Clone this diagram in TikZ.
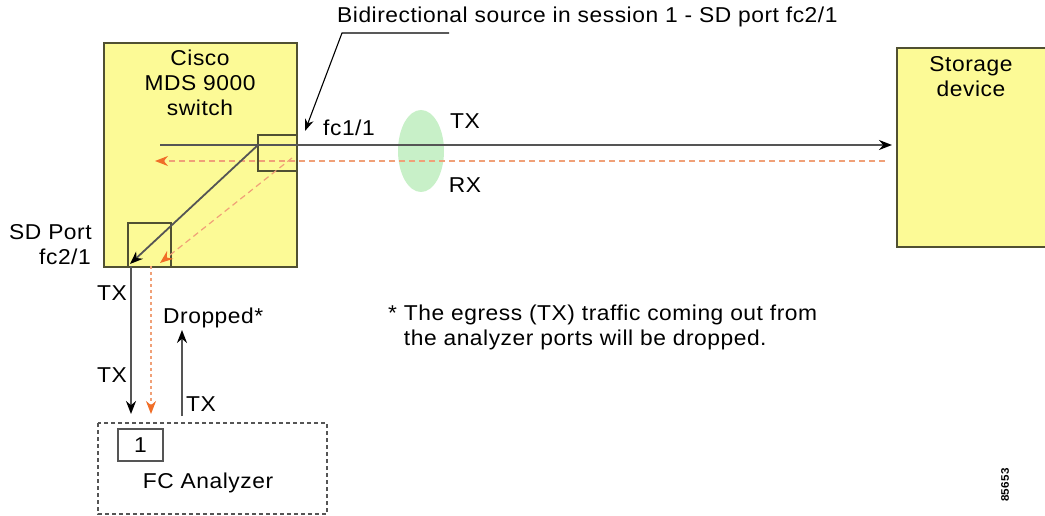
\documentclass[tikz,border=0pt]{standalone}
\usepackage{fontspec}
\setmainfont[FakeStretch=1.06,LetterSpace=2.5]{Liberation Sans}
\usetikzlibrary{arrows.meta}
\definecolor{boxyellow}{RGB}{252,250,150}
\definecolor{boxedge}{RGB}{80,80,50}
\definecolor{txgray}{RGB}{85,85,85}
\definecolor{rxline}{RGB}{240,160,120}
\definecolor{rxhead}{RGB}{240,110,40}
\definecolor{ellgreen}{RGB}{200,240,200}
\tikzset{
  lbl/.style={inner sep=0pt, font=\fontsize{21.5}{25}\selectfont},
  devbox/.style={draw=boxedge, fill=boxyellow, line width=1.6pt},
  portbox/.style={draw=boxedge, line width=1.4pt},
  txarrow/.style={draw=txgray, line width=1.8pt, -{Stealth[length=13pt,width=10pt,color=black]}},
  rxarrow/.style={draw=rxline, line width=1.2pt, dash pattern=on 6pt off 4pt, -{Stealth[length=13pt,width=10pt,color=rxhead]}},
}
\begin{document}
\begin{tikzpicture}[x=1pt,y=-1pt]
\useasboundingbox (0,0) rectangle (1045,516);
% devices
\path[devbox] (104,43) rectangle (297,267);
\node[lbl, align=center, anchor=north] (sw) at (200,50) {Cisco\\MDS 9000\\switch};
\path[devbox] (897,48) rectangle (1052,247);
\node[lbl, align=center, anchor=north] (st) at (971,56) {Storage\\device};
% green ellipse
\fill[ellgreen] (421,151) ellipse [x radius=23, y radius=41];
% ports
\node[portbox, minimum width=39pt, minimum height=36pt, inner sep=0pt] (p1) at (277.5,153) {};
\node[portbox, minimum width=43pt, minimum height=44pt, inner sep=0pt] (p2) at (149.5,245) {};
% coordinates
\coordinate (txs) at (160,145);
\coordinate (txe) at (892,145);
\coordinate (rxs) at (885,161);
\coordinate (rxe) at (155,161);
\coordinate (d1s) at (258,145);
\coordinate (d1e) at (130,264);
\coordinate (d2s) at (292,158);
\coordinate (d2e) at (160,263);
\coordinate (v1s) at (131,266);
\coordinate (v1e) at (131,414);
\coordinate (v2s) at (151,266);
\coordinate (v2e) at (151,414);
\coordinate (ups) at (182,416);
\coordinate (upe) at (182,330);
% lines
\draw[txarrow] (txs) -- (txe);
\draw[rxarrow] (rxs) -- (rxe);
\draw[txarrow] (d1s) -- (d1e);
\draw[rxarrow] (d2s) -- (d2e);
\draw[txarrow] (v1s) -- (v1e);
\draw[rxarrow, dash pattern=on 3pt off 3pt] (v2s) -- (v2e);
\draw[txarrow] (ups) -- (upe);
% labels
\node[lbl, anchor=west] (title) at (337,17) {Bidirectional source in session 1 - SD port fc2/1};
\coordinate (ld1) at (449,33);
\coordinate (ld2) at (342,33);
\coordinate (ld3) at (305,131);
\draw[line width=1.1pt, -{Stealth[length=12pt,width=9pt]}] (ld1) -- (ld2) -- (ld3);
\node[lbl] (fc11) at (349,128) {fc1/1};
\node[lbl] (tx1) at (465,121) {TX};
\node[lbl] (rx1) at (465,185) {RX};
\node[lbl, anchor=west] (sdp) at (9,232) {SD Port};
\node[lbl, anchor=east] (fc21) at (91,257) {fc2/1};
\node[lbl] (tx2) at (112,293) {TX};
\node[lbl] (tx3) at (112,375) {TX};
\node[lbl] (tx4) at (201,404) {TX};
\node[lbl, anchor=west] (drop) at (163,318) {Dropped*};
\node[lbl, anchor=north west, align=left] (note) at (388,305) {* The egress (TX) traffic coming out from\\\hphantom{* }the analyzer ports will be dropped.};
% analyzer
\draw[txgray, line width=1.2pt, dash pattern=on 4pt off 3pt] (98,423) rectangle (327,514);
\node[draw=txgray, line width=1.4pt, minimum width=45pt, minimum height=32pt, inner sep=0pt, lbl] (pt1) at (140.5,445) {1};
\node[lbl] (fca) at (208,483) {FC Analyzer};
\node[rotate=90, inner sep=0pt, font=\fontsize{11}{12}\selectfont\bfseries] (fig) at (1005,485) {85653};
\end{tikzpicture}
\end{document}
